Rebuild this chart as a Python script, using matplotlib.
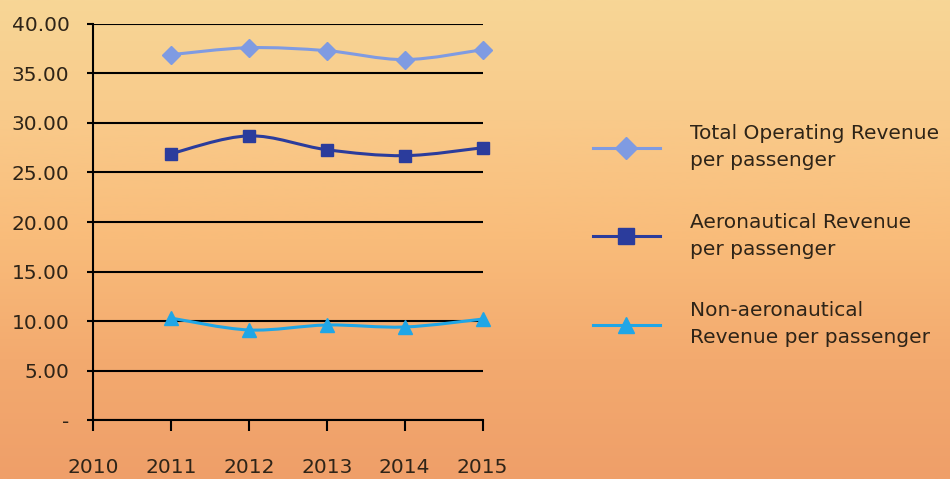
import matplotlib
matplotlib.use("Agg")
import matplotlib.pyplot as plt
import numpy as np
from matplotlib.path import Path
from matplotlib.patches import PathPatch
from matplotlib.colors import LinearSegmentedColormap

years = [2011, 2012, 2013, 2014, 2015]
total_rev = [36.9, 37.6, 37.3, 36.4, 37.4]
aero_rev = [26.9, 28.7, 27.3, 26.7, 27.5]
non_aero_rev = [10.3, 9.1, 9.6, 9.4, 10.2]
labels = ["Total Operating Revenue\nper passenger",
          "Aeronautical Revenue\nper passenger",
          "Non-aeronautical\nRevenue per passenger"]
y_ticks = [0, 5, 10, 15, 20, 25, 30, 35, 40]
y_ticklabels = ["-"] + ["%.2f" % v for v in y_ticks[1:]]
x_ticks = [2010, 2011, 2012, 2013, 2014, 2015]

plt.rcParams['font.family'] = ['DejaVu Sans']
FS = 14.5


def smooth_path(xs, ys, k=1/6):
    # bezier through the points, like a spreadsheet "smoothed line"
    pts = list(zip(xs, ys))
    verts = [pts[0]]
    codes = [Path.MOVETO]
    for i in range(len(pts) - 1):
        p0 = pts[max(i - 1, 0)]
        p1 = pts[i]
        p2 = pts[i + 1]
        p3 = pts[min(i + 2, len(pts) - 1)]
        c1 = (p1[0] + (p2[0] - p0[0]) * k, p1[1] + (p2[1] - p0[1]) * k)
        c2 = (p2[0] - (p3[0] - p1[0]) * k, p2[1] - (p3[1] - p1[1]) * k)
        verts += [c1, c2, p2]
        codes += [Path.CURVE4] * 3
    return Path(verts, codes)


fig = plt.figure(figsize=(9.5, 4.79), dpi=100)

# background wash
bg = fig.add_axes([0, 0, 1, 1], zorder=-5)
cmap = LinearSegmentedColormap.from_list(
    "sky", ["#f7d696", "#f9ca8a", "#f9bc7a", "#f3aa6f", "#ef9f69"])
grad = np.linspace(0, 1, 256).reshape(-1, 1)
bg.imshow(grad, aspect="auto", cmap=cmap, extent=[0, 1, 1, 0])
bg.axis("off")

ax = fig.add_axes([0.098, 0.123, 0.41, 0.827])
ax.patch.set_alpha(0)
ax.set_xlim(2010, 2015)
ax.set_ylim(0, 40)

for v in y_ticks:
    ax.axhline(v, color="black", lw=1.5, zorder=1)

series = [
    (total_rev, "#7f9be2", "D", 9),
    (aero_rev, "#2b3c9c", "s", 9),
    (non_aero_rev, "#20a6e6", "^", 10),
]
handles = []
for (vals, col, mk, ms), lab in zip(series, labels):
    ax.add_patch(PathPatch(smooth_path(years, vals), facecolor="none",
                           edgecolor=col, lw=2.2, zorder=3))
    ax.plot(years, vals, ls="none", marker=mk, ms=ms, color=col,
            mec=col, zorder=4, clip_on=False)
    handles.append(plt.Line2D([], [], color=col, lw=2.2, marker=mk, ms=ms + 2))

ax.set_yticks(y_ticks)
ax.set_yticklabels(y_ticklabels)
ax.set_xticks(x_ticks)
ax.set_xticklabels([str(x) for x in x_ticks])
ax.tick_params(axis="y", length=4, width=1.5, pad=13, labelsize=FS, colors="black")
ax.tick_params(axis="x", length=8, width=1.5, pad=19, labelsize=FS, colors="black")
ax.tick_params(labelcolor="#2e2418")
for s in ["top", "right"]:
    ax.spines[s].set_visible(False)
ax.spines["left"].set_linewidth(1.5)
ax.spines["bottom"].set_linewidth(1.5)

fig.legend(handles, labels, loc="upper left", bbox_to_anchor=(0.605, 0.779),
           frameon=False, fontsize=FS, handlelength=3.33, handletextpad=1.5,
           labelspacing=2.1, labelcolor="#2e2418")
for t in fig.legends[0].get_texts():
    t.set_linespacing(1.55)

fig.savefig("out.png", dpi=100)
